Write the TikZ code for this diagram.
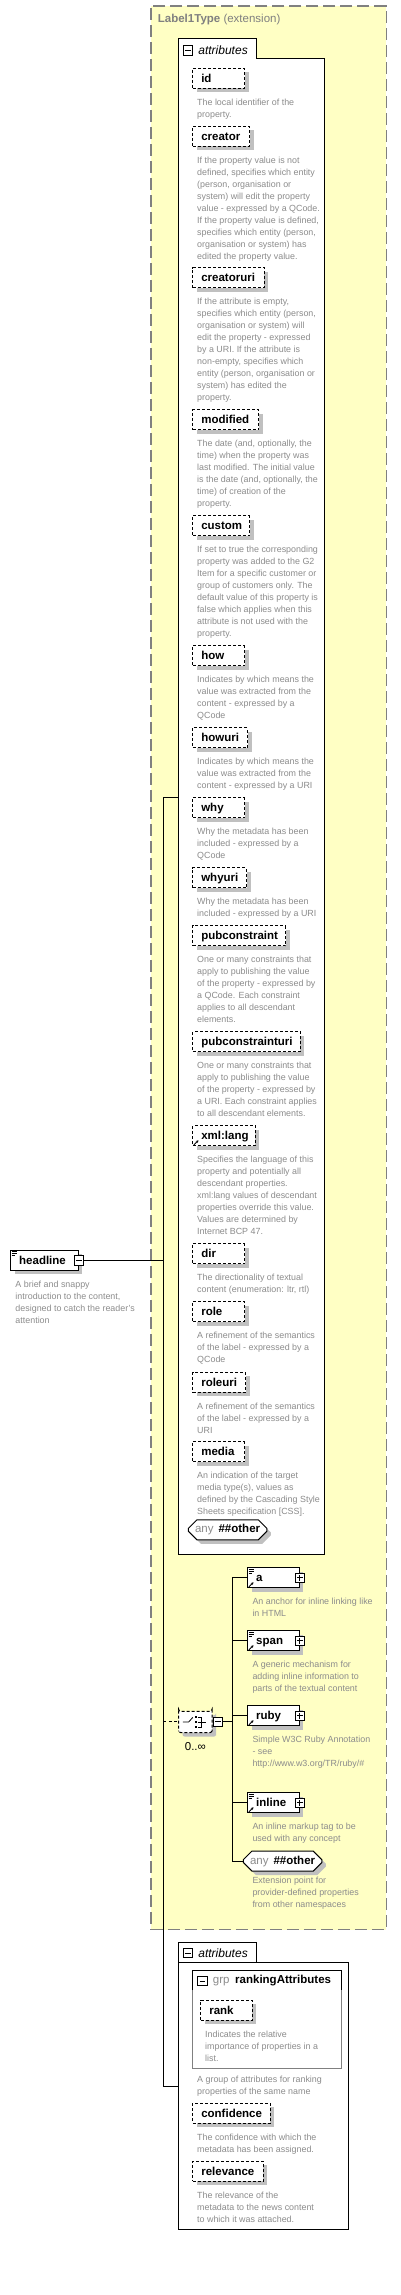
\documentclass[tikz,border=0pt]{standalone}
\usepackage{fontspec}
\setmainfont{Liberation Sans}
\usetikzlibrary{arrows.meta, positioning, shapes.misc, shadows}

\definecolor{extfill}{RGB}{255,255,196}
\definecolor{extline}{RGB}{128,128,128}
\definecolor{descgray}{RGB}{140,140,140}
\definecolor{shadowgray}{RGB}{192,192,192}

\newcommand\docmark[1]{\draw[line width=.7pt] ([shift={(1.4pt,-1.6pt)}]#1.north west) -- ++(5pt,0pt) ++(-5pt,-2pt) -- ++(5pt,0pt) ++(-5pt,-2pt) -- ++(3.5pt,0pt);}
\newcommand\refmark[1]{\draw[line width=.9pt, -{Stealth[length=2.6pt, width=2.8pt]}] ([shift={(1.6pt,1.4pt)}]#1.south west) -- ++(4.6pt,4.6pt);}

\begin{document}
\begin{tikzpicture}[x=1pt, y=1pt,
    every node/.style={font=\fontsize{11.5}{13}\selectfont},
    extbox/.style={draw=extline, fill=extfill, line width=1.2pt, dash pattern=on 12pt off 5pt, anchor=north west, inner sep=0pt},
    panel/.style={draw, fill=white, line width=1pt, anchor=north west, inner sep=0pt},
    grpbox/.style={draw=extline, line width=1pt, anchor=north west, inner sep=0pt},
    tab/.style={fill=white, anchor=south west, inner sep=0pt, minimum width=77.4pt, minimum height=19.6pt},
    tablabel/.style={inner sep=0pt, font=\fontsize{12}{14}\selectfont\itshape},
    attr/.style={draw, fill=white, line width=1pt, dash pattern=on 3pt off 2pt, anchor=north west,
        inner xsep=8.5pt, inner ysep=0pt, minimum height=20pt, text height=10pt, text depth=2pt,
        text width=#1, align=left, font=\fontsize{11.5}{13}\selectfont\bfseries,
        general shadow={fill=shadowgray, shadow xshift=4pt, shadow yshift=-4pt}},
    elem/.style={attr=#1, solid, inner xsep=8.4pt},
    wild/.style={chamfered rectangle, chamfered rectangle xsep=5pt, draw, fill=white, line width=1pt,
        anchor=north west, inner sep=0pt, minimum width=#1, minimum height=20pt,
        general shadow={fill=shadowgray, shadow xshift=4pt, shadow yshift=-4pt}},
    choicebox/.style={chamfered rectangle, chamfered rectangle xsep=4pt, rounded corners=2pt, draw, fill=white,
        line width=1pt, dash pattern=on 3pt off 2pt, anchor=north west, inner sep=0pt,
        minimum width=33.3pt, minimum height=21.3pt,
        general shadow={fill=shadowgray, shadow xshift=4pt, shadow yshift=-4pt}},
    desc/.style={inner sep=0pt, align=left, text=descgray, font=\fontsize{8.9}{12}\selectfont},
    minusbox/.style={draw, fill=white, line width=.8pt, minimum size=9.6pt, inner sep=0pt,
        path picture={\draw[line width=.8pt] ([xshift=2pt]path picture bounding box.west) -- ([xshift=-2pt]path picture bounding box.east);}},
    plusbox/.style={minusbox,
        path picture={\draw[line width=.8pt] ([xshift=2pt]path picture bounding box.west) -- ([xshift=-2pt]path picture bounding box.east);
                      \draw[line width=.8pt] ([yshift=-2pt]path picture bounding box.north) -- ([yshift=2pt]path picture bounding box.south);}},
    conn/.style={line width=1pt}
]
\useasboundingbox (0,0) rectangle (400,-2295);

\node[extbox, minimum width=235.4pt, minimum height=1923.7pt] (ext) at (150.3,-5.3) {};
\node[anchor=west, inner sep=0pt, text=extline] (exttitle) at (157.7,-20) {\textbf{Label1Type} (extension)};

\node[panel, minimum width=146pt, minimum height=1496pt] (attrbody) at (178.3,-58.3) {};
\node[tab] (attrtab) at ([yshift=-0.6pt]attrbody.north west) {};
\draw[conn] (attrtab.south west) |- (attrtab.north east) -- (attrtab.south east);
\node[minusbox] (attrmin) at (188,-50.3) {};
\node[tablabel, right=5pt of attrmin] (attrlabel) {attributes};

\node[panel, minimum width=170pt, minimum height=267.6pt] (attrbody2) at (178.3,-1961.7) {};
\node[tab] (attrtab2) at ([yshift=-0.6pt]attrbody2.north west) {};
\draw[conn] (attrtab2.south west) |- (attrtab2.north east) -- (attrtab2.south east);
\node[minusbox] (attrmin2) at (188,-1953) {};
\node[tablabel, right=5pt of attrmin2] (attrlabel2) {attributes};

\coordinate (spinetop) at (163.3,-797.3);
\coordinate (spinebot) at (163.3,-2086);
\coordinate (chjoin) at (232.3,-1721.7);

\draw[conn] (attrbody.west |- spinetop) -- (spinetop) -- (spinebot) -- (attrbody2.west |- spinebot);

\node[attr=34.7pt] (id) at (192.3,-67.7) {id};
\node[desc, below right=10pt and 4.7pt of id.south west] (iddesc) {The local identifier of the\\property.};
\node[attr=39.7pt] (creator) at (192.3,-125.7) {creator};
\node[desc, below right=10pt and 4.7pt of creator.south west] (creatordesc) {If the property value is not\\defined, specifies which entity\\(person, organisation or\\system) will edit the property\\value - expressed by a QCode.\\If the property value is defined,\\specifies which entity (person,\\organisation or system) has\\edited the property value.};
\node[attr=54.4pt] (creatoruri) at (192.3,-267.3) {creatoruri};
\node[desc, below right=10pt and 4.7pt of creatoruri.south west] (creatorurides) {If the attribute is empty,\\specifies which entity (person,\\organisation or system) will\\edit the property - expressed\\by a URI. If the attribute is\\non-empty, specifies which\\entity (person, organisation or\\system) has edited the\\property.};
\node[attr=49pt] (modified) at (192.3,-409.3) {modified};
\node[desc, below right=10pt and 4.7pt of modified.south west] (modifieddesc) {The date (and, optionally, the\\time) when the property was\\last modified. The initial value\\is the date (and, optionally, the\\time) of creation of the\\property.};
\node[attr=39.7pt] (custom) at (192.3,-515.3) {custom};
\node[desc, below right=10pt and 4.7pt of custom.south west] (customdesc) {If set to true the corresponding\\property was added to the G2\\Item for a specific customer or\\group of customers only. The\\default value of this property is\\false which applies when this\\attribute is not used with the\\property.};
\node[attr=34.7pt] (how) at (192.3,-645.3) {how};
\node[desc, below right=10pt and 4.7pt of how.south west] (howdesc) {Indicates by which means the\\value was extracted from the\\content - expressed by a\\QCode};
\node[attr=37.7pt] (howuri) at (192.3,-727.3) {howuri};
\node[desc, below right=10pt and 4.7pt of howuri.south west] (howuridesc) {Indicates by which means the\\value was extracted from the\\content - expressed by a URI};
\node[attr=34.7pt] (why) at (192.3,-797.3) {why};
\node[desc, below right=10pt and 4.7pt of why.south west] (whydesc) {Why the metadata has been\\included - expressed by a\\QCode};
\node[attr=36.7pt] (whyuri) at (192.3,-867.3) {whyuri};
\node[desc, below right=10pt and 4.7pt of whyuri.south west] (whyuridesc) {Why the metadata has been\\included - expressed by a URI};
\node[attr=75.7pt] (pubconstraint) at (192.3,-925.3) {pubconstraint};
\node[desc, below right=10pt and 4.7pt of pubconstraint.south west] (pubdesc) {One or many constraints that\\apply to publishing the value\\of the property - expressed by\\a QCode. Each constraint\\applies to all descendant\\elements.};
\node[attr=90.4pt] (pubconstrainturi) at (192.3,-1031.3) {pubconstrainturi};
\node[desc, below right=10pt and 4.7pt of pubconstrainturi.south west] (pubdanuridesc) {One or many constraints that\\apply to publishing the value\\of the property - expressed by\\a URI. Each constraint applies\\to all descendant elements.};
\node[attr=45.4pt] (xmllang) at (192.3,-1125.3) {xml:lang};
\refmark{xmllang}
\node[desc, below right=10pt and 4.7pt of xmllang.south west] (xmllangdesc) {Specifies the language of this\\property and potentially all\\descendant properties.\\xml:lang values of descendant\\properties override this value.\\Values are determined by\\Internet BCP 47.};
\node[attr=34.7pt] (dir) at (192.3,-1243.3) {dir};
\node[desc, below right=10pt and 4.7pt of dir.south west] (dirdesc) {The directionality of textual\\content (enumeration: ltr, rtl)};
\node[attr=34.7pt] (role) at (192.3,-1301) {role};
\node[desc, below right=10pt and 4.7pt of role.south west] (roledesc) {A refinement of the semantics\\of the label - expressed by a\\QCode};
\node[attr=35.7pt] (roleuri) at (192.3,-1371.7) {roleuri};
\node[desc, below right=10pt and 4.7pt of roleuri.south west] (roleuridesc) {A refinement of the semantics\\of the label - expressed by a\\URI};
\node[attr=34.7pt] (media) at (192.3,-1441.3) {media};
\node[desc, below right=10pt and 4.7pt of media.south west] (mediadesc) {An indication of the target\\media type(s), values as\\defined by the Cascading Style\\Sheets specification [CSS].};
\node[wild=78.4pt] (anyattr) at (192.3,-1523.7) {{\color{descgray}any}\hspace{5pt}\textbf{\#\#other}};

\node[elem=50.6pt] (headline) at (10.3,-1249.7) {headline};
\node[minusbox] (hlmin) at (headline.east) {};
\docmark{headline}
\node[desc, below right=10pt and 5pt of headline.south west] (hldesc) {A brief and snappy\\introduction to the content,\\designed to catch the reader's\\attention};
\draw[conn] (hlmin.east) -- (hlmin.east -| spinetop);

\node[choicebox] (choice) at (178.7,-1711) {};
\draw[line width=.8pt] ([xshift=-12.6pt]choice.center) -- ++(6pt,0pt) -- ++(4pt,4.5pt);
\fill ([shift={(-0.4pt,6.1pt)}]choice.center) rectangle ++(2.2pt,-2.2pt);
\fill ([shift={(-0.4pt,1.1pt)}]choice.center) rectangle ++(2.2pt,-2.2pt);
\fill ([shift={(-0.4pt,-3.9pt)}]choice.center) rectangle ++(2.2pt,-2.2pt);
\draw[line width=.8pt] ([shift={(2.6pt,5pt)}]choice.center) -| ([shift={(6pt,-5pt)}]choice.center) -- ([shift={(2.6pt,-5pt)}]choice.center);
\draw[line width=.8pt] ([xshift=2.6pt]choice.center) -- ([xshift=10.5pt]choice.center);
\node[minusbox] (chmin) at (217.7,-1721.7) {};
\node[inner sep=0pt, below=8.7pt of choice] (chcount) {0..∞};
\draw[conn, dash pattern=on 3pt off 2.5pt] (choice.west -| spinetop) -- (choice.west);

\node[elem=34.6pt] (anchorel) at (247.3,-1567.3) {a};
\node[plusbox] (anchorplus) at (anchorel.east) {};
\docmark{anchorel} \refmark{anchorel}
\node[desc, below right=10pt and 5pt of anchorel.south west] (anchordesc) {An anchor for inline linking like\\in HTML};
\node[elem=34.6pt] (spanel) at (247.3,-1630.3) {span};
\node[plusbox] (spanplus) at (spanel.east) {};
\docmark{spanel} \refmark{spanel}
\node[desc, below right=10pt and 5pt of spanel.south west] (spandesc) {A generic mechanism for\\adding inline information to\\parts of the textual content};
\node[elem=34.6pt] (rubyel) at (247.3,-1705.3) {ruby};
\node[plusbox] (rubyplus) at (rubyel.east) {};
\refmark{rubyel}
\node[desc, below right=10pt and 5pt of rubyel.south west] (rubydesc) {Simple W3C Ruby Annotation\\- see\\http://www.w3.org/TR/ruby/\#};
\node[elem=34.6pt] (inlineel) at (247.3,-1792.3) {inline};
\node[plusbox] (inlineplus) at (inlineel.east) {};
\docmark{inlineel} \refmark{inlineel}
\node[desc, below right=10pt and 5pt of inlineel.south west] (inlinedesc) {An inline markup tag to be\\used with any concept};
\node[wild=78.4pt] (anyel) at (247.3,-1855) {{\color{descgray}any}\hspace{5pt}\textbf{\#\#other}};
\node[desc, below right=10pt and 5pt of anyel.south west] (anydesc) {Extension point for\\provider-defined properties\\from other namespaces};

\draw[conn] (chmin.east) -- (chjoin);
\draw[conn] (chjoin |- anchorel.west) -- (chjoin |- anyel.west);
\draw[conn] (chjoin |- anchorel.west) -- (anchorel.west);
\draw[conn] (chjoin |- spanel.west) -- (spanel.west);
\draw[conn] (chjoin |- rubyel.west) -- (rubyel.west);
\draw[conn] (chjoin |- inlineel.west) -- (inlineel.west);
\draw[conn] (chjoin |- anyel.west) -- (anyel.west);

\node[grpbox, minimum width=148.4pt, minimum height=98pt] (rankgrp) at (192.3,-1970.3) {};
\draw[conn] ([yshift=-19.7pt]rankgrp.north west) |- (rankgrp.north east) -- ([yshift=-19.7pt]rankgrp.north east);
\node[minusbox] (grpmin) at (202.3,-1981) {};
\node[anchor=west, inner sep=0pt] (grplabel) at (212.7,-1981) {{\color{descgray}grp}\hspace{5.7pt}\textbf{rankingAttributes}};
\node[attr=34.4pt] (rank) at (200.3,-1999.7) {rank};
\node[desc, below right=10pt and 4.7pt of rank.south west] (rankdesc) {Indicates the relative\\importance of properties in a\\list.};
\node[desc, below right=6.4pt and 4.7pt of rankgrp.south west] (grpdesc) {A group of attributes for ranking\\properties of the same name};
\node[attr=60.4pt] (confidence) at (192.3,-2102.7) {confidence};
\node[desc, below right=10pt and 4.7pt of confidence.south west] (confidencedesc) {The confidence with which the\\metadata has been assigned.};
\node[attr=53.4pt] (relevance) at (192.3,-2160.7) {relevance};
\node[desc, below right=10pt and 4.7pt of relevance.south west] (relevancedesc) {The relevance of the\\metadata to the news content\\to which it was attached.};
\end{tikzpicture}
\end{document}
